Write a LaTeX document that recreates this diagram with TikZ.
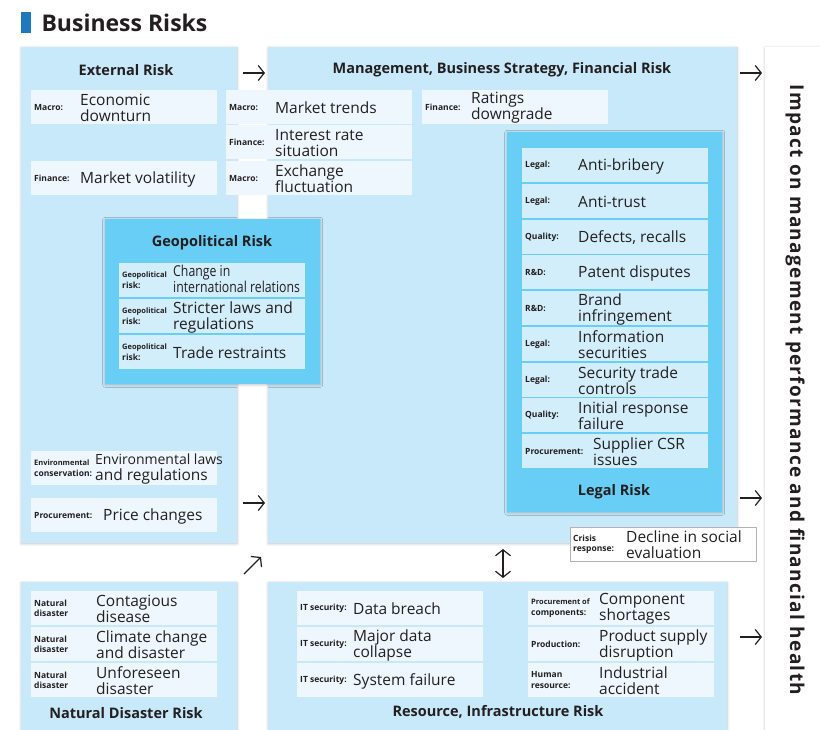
\documentclass[tikz,border=0pt]{standalone}
\usepackage{fontspec}
\setmainfont{Open Sans}
\usepackage{xcolor}
\usetikzlibrary{arrows.meta,positioning,shadows.blur}

\definecolor{panelblue}{RGB}{200,233,249}
\definecolor{panelitem}{RGB}{238,247,253}
\definecolor{deepblue}{RGB}{104,206,245}
\definecolor{deepitem}{RGB}{210,238,250}
\definecolor{headblue}{RGB}{31,119,188}
\definecolor{ink}{RGB}{35,31,32}

\tikzset{
    riskpanel/.style={anchor=north west, fill=panelblue, inner sep=0pt,
        blur shadow={shadow xshift=0pt, shadow yshift=-0.6pt, shadow blur radius=2.5pt, shadow opacity=25}},
    deeppanel/.style={riskpanel, fill=deepblue},
    item/.style={anchor=north west, minimum width=186, minimum height=34, inner sep=0pt},
    tag/.style={anchor=west, inner sep=0pt, align=left, font=\bfseries\fontsize{8.5}{10.5}\selectfont},
    entry/.style={anchor=west, inner sep=0pt, yshift=-0.8pt, align=left, font=\fontsize{15.5}{16}\selectfont},
    paneltitle/.style={font=\bfseries\fontsize{14.5}{16}\selectfont},
    arrowglyph/.style={-{Straight Barb[length=6pt,width=15pt]}, line width=1.2pt, draw=ink},
    twoway/.style={{Straight Barb[length=6pt,width=15pt]}-{Straight Barb[length=6pt,width=15pt]}, line width=1.2pt, draw=ink}
}

% one risk entry: box, small tag, text
\newcommand{\riskitem}[6][fill=panelitem]{%
    \node[item, #1] (#2) at (#3) {};
    \node[tag] (#2-tag) at ([xshift=3pt]#2.west) {#5};
    \node[entry] (#2-text) at ([xshift=#4pt]#2.west) {#6};
}
\newcommand{\smalltag}{\fontsize{7.5}{10.5}\selectfont}

\begin{document}
\begin{tikzpicture}[x=1pt, y=-1pt, every node/.style={text=ink}]
    \useasboundingbox (0,0) rectangle (820,729);

    % Heading
    \fill[headblue] (21,12) rectangle (31,33);
    \node[anchor=base west, font=\bfseries\fontsize{23}{26}\selectfont] (head) at (38,31) {Business Risks};

    % Panels
    \node[riskpanel, minimum width=216, minimum height=496] (ext) at (21,47) {};
    \node[riskpanel, minimum width=469, minimum height=496] (mgmt) at (268,47) {};
    \node[riskpanel, minimum width=216, minimum height=150] (nat) at (21,582) {};
    \node[riskpanel, minimum width=459, minimum height=150] (res) at (268,582) {};
    \node[riskpanel, fill=white, minimum width=60, minimum height=690] (impact) at (765,47) {};

    \node[paneltitle] (extT) at (126,70) {External Risk};
    \node[paneltitle] (mgmtT) at (502,70) {Management, Business Strategy, Financial Risk};
    \node[paneltitle] (natT) at (126,713) {Natural Disaster Risk};
    \node[paneltitle] (resT) at (498,712) {Resource, Infrastructure Risk};
    \node[rotate=-90, font=\bfseries\fontsize{19}{22}\selectfont\addfontfeature{LetterSpace=7}] (impactT) at (795,390)
        {Impact on management performance and financial health};

    % External risk
    \riskitem{ext1}{31,90}{49}{Macro:}{Economic\\downturn}
    \riskitem{ext2}{31,161}{49}{Finance:}{Market volatility}
    \riskitem{ext3}{31,451}{64}{\smalltag Environmental\\conservation:}{\fontsize{14}{15.5}\selectfont Environmental laws\\and regulations}
    \riskitem{ext4}{31,498}{72}{Procurement:}{Price changes}

    % Management, strategy, finance
    \riskitem{mg1}{226,90}{49}{Macro:}{Market trends}
    \riskitem{mg2}{226,125}{49}{Finance:}{Interest rate\\situation}
    \riskitem{mg3}{226,161}{49}{Macro:}{Exchange\\fluctuation}
    \riskitem{mg4}{422,90}{49}{Finance:}{Ratings\\downgrade}

    % Geopolitical risk
    \node[deeppanel, minimum width=215, minimum height=165] (geo) at (105,219) {};
    \node[paneltitle] (geoT) at (212,243) {Geopolitical Risk};
    \riskitem[fill=deepitem]{geo1}{119,263}{54}{\smalltag Geopolitical\\risk:}{\fontsize{15}{15.5}\selectfont
        \scalebox{0.82}[1]{\begin{tabular}{@{}l@{}}Change in\\international relations\end{tabular}}}
    \riskitem[fill=deepitem]{geo2}{119,299}{54}{\smalltag Geopolitical\\risk:}{Stricter laws and\\regulations}
    \riskitem[fill=deepitem]{geo3}{119,335}{54}{\smalltag Geopolitical\\risk:}{Trade restraints}

    % Legal risk
    \node[deeppanel, minimum width=215, minimum height=380] (legal) at (507,132) {};
    \node[paneltitle] (legalT) at (614,492) {Legal Risk};
    \riskitem[fill=deepitem]{lg1}{522,148}{56}{Legal:}{Anti-bribery}
    \riskitem[fill=deepitem]{lg2}{522,184}{56}{Legal:}{Anti-trust}
    \riskitem[fill=deepitem]{lg3}{522,220}{56}{Quality:}{Defects, recalls}
    \riskitem[fill=deepitem]{lg4}{522,255}{56}{R\&D:}{Patent disputes}
    \riskitem[fill=deepitem]{lg5}{522,291}{56}{R\&D:}{Brand\\infringement}
    \riskitem[fill=deepitem]{lg6}{522,327}{56}{Legal:}{Information\\securities}
    \riskitem[fill=deepitem]{lg7}{522,363}{56}{Legal:}{Security trade\\controls}
    \riskitem[fill=deepitem]{lg8}{522,398}{56}{Quality:}{Initial response\\failure}
    \riskitem[fill=deepitem]{lg9}{522,434}{71}{Procurement:}{Supplier CSR\\issues}

    % Crisis response
    \riskitem[fill=white, draw=black!30]{crisis}{570,527}{56}{Crisis\\response:}{Decline in social\\evaluation}

    % Natural disaster
    \riskitem{nd1}{31,591}{65}{Natural\\disaster}{Contagious\\disease}
    \riskitem{nd2}{31,627}{65}{Natural\\disaster}{Climate change\\and disaster}
    \riskitem{nd3}{31,663}{65}{Natural\\disaster}{Unforeseen\\disaster}

    % Resource, infrastructure
    \riskitem{rs1}{297,591}{56}{IT security:}{Data breach}
    \riskitem{rs2}{297,627}{56}{IT security:}{Major data\\collapse}
    \riskitem{rs3}{297,663}{56}{IT security:}{System failure}
    \riskitem{rs4}{528,591}{71}{\smalltag Procurement of\\components:}{Component\\shortages}
    \riskitem{rs5}{528,627}{71}{Production:}{Product supply\\disruption}
    \riskitem{rs6}{528,663}{71}{Human\\resource:}{Industrial\\accident}

    % Arrows
    \coordinate (a1) at (243,73);  \coordinate (b1) at (265,73);
    \coordinate (a2) at (243,503); \coordinate (b2) at (265,503);
    \coordinate (a3) at (244,574); \coordinate (b3) at (261,557);
    \coordinate (a4) at (503,549); \coordinate (b4) at (503,578);
    \coordinate (a5) at (740,73);  \coordinate (b5) at (762,73);
    \coordinate (a6) at (740,498); \coordinate (b6) at (762,498);
    \coordinate (a7) at (740,637); \coordinate (b7) at (762,637);
    \draw[arrowglyph] (a1) -- (b1);
    \draw[arrowglyph] (a2) -- (b2);
    \draw[arrowglyph] (a3) -- (b3);
    \draw[twoway] (a4) -- (b4);
    \draw[arrowglyph] (a5) -- (b5);
    \draw[arrowglyph] (a6) -- (b6);
    \draw[arrowglyph] (a7) -- (b7);
\end{tikzpicture}
\end{document}
